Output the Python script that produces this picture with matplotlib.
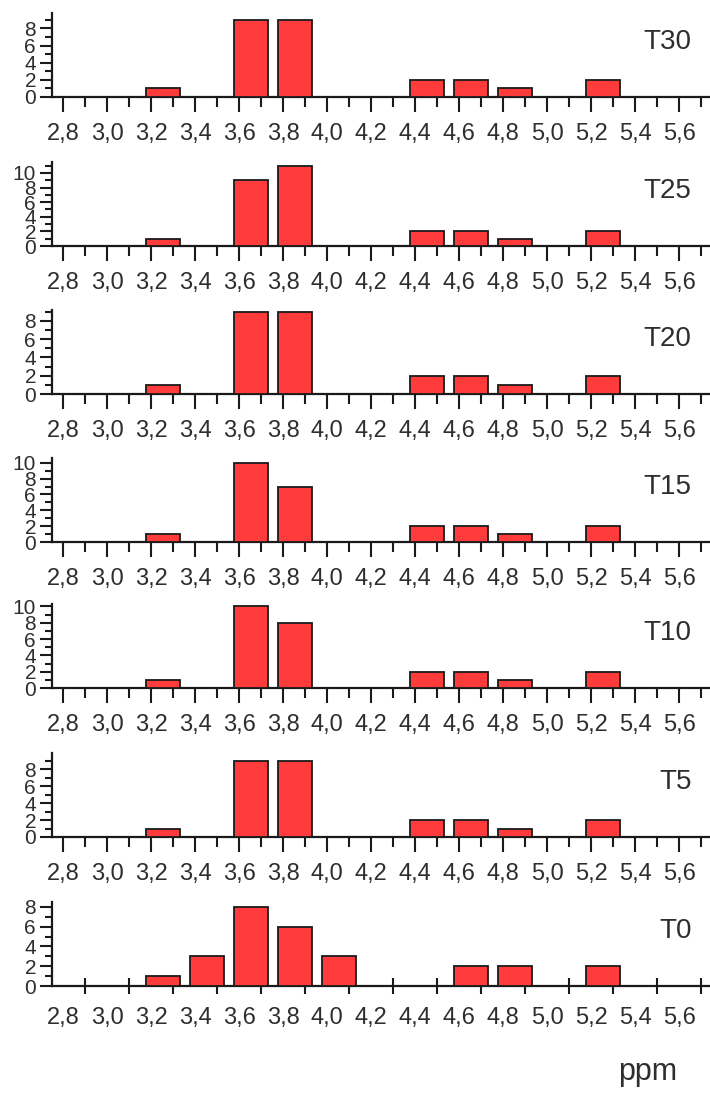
import matplotlib
matplotlib.use("Agg")
import matplotlib.pyplot as plt
import numpy as np

plt.rcParams['font.family'] = ['Liberation Sans', 'DejaVu Sans']

# chemical shift bins (ppm) and counts per time point
bins = [2.8, 3.0, 3.2, 3.4, 3.6, 3.8, 4.0, 4.2, 4.4, 4.6, 4.8, 5.0, 5.2, 5.4, 5.6]
tick_labels = ["2,8", "3,0", "3,2", "3,4", "3,6", "3,8", "4,0", "4,2",
               "4,4", "4,6", "4,8", "5,0", "5,2", "5,4", "5,6"]

t30 = [0, 0, 1, 0, 9, 9, 0, 0, 2, 2, 1, 0, 2, 0, 0]
t25 = [0, 0, 1, 0, 9, 11, 0, 0, 2, 2, 1, 0, 2, 0, 0]
t20 = [0, 0, 1, 0, 9, 9, 0, 0, 2, 2, 1, 0, 2, 0, 0]
t15 = [0, 0, 1, 0, 10, 7, 0, 0, 2, 2, 1, 0, 2, 0, 0]
t10 = [0, 0, 1, 0, 10, 8, 0, 0, 2, 2, 1, 0, 2, 0, 0]
t5 = [0, 0, 1, 0, 9, 9, 0, 0, 2, 2, 1, 0, 2, 0, 0]
t0 = [0, 0, 1, 3, 8, 6, 3, 0, 0, 2, 2, 0, 2, 0, 0]

names = ["T30", "T25", "T20", "T15", "T10", "T5", "T0"]
series = [t30, t25, t20, t15, t10, t5, t0]
ymax = [9.8, 11.5, 9.2, 10.6, 10.3, 9.9, 8.5]
yticks = [[0, 2, 4, 6, 8], [0, 2, 4, 6, 8, 10], [0, 2, 4, 6, 8],
          [0, 2, 4, 6, 8, 10], [0, 2, 4, 6, 8, 10], [0, 2, 4, 6, 8],
          [0, 2, 4, 6, 8]]
baselines_px = [97, 246, 394, 542, 688, 837, 986]

W, H = 710, 1100
txt = "#2e2e2e"
fig = plt.figure(figsize=(W / 100, H / 100), dpi=100)

x = np.array(bins)
minor_x = x + 0.1

for i, (name, vals) in enumerate(zip(names, series)):
    bottom = 1 - baselines_px[i] / H
    ax = fig.add_axes([52 / W, bottom, (W - 52) / W, 84 / H])
    ax.bar(x + 0.055, vals, width=0.155, color="#ff3b3b",
           edgecolor="#1a1a1a", linewidth=1.3, zorder=3)
    ax.set_xlim(2.75, 5.74)
    ax.set_ylim(0, ymax[i])
    for s in ["top", "right"]:
        ax.spines[s].set_visible(False)
    for s in ["left", "bottom"]:
        ax.spines[s].set_linewidth(1.6)
        ax.spines[s].set_color("#1a1a1a")

    ax.set_yticks(yticks[i])
    ax.set_yticks(np.arange(1, ymax[i], 2), minor=True)
    ax.tick_params(axis="y", which="major", direction="out", length=8.5,
                   width=1.5, pad=3, labelsize=15, labelcolor=txt,
                   color="#1a1a1a")
    ax.tick_params(axis="y", which="minor", direction="out", length=5,
                   width=1.5, color="#1a1a1a")

    ax.set_xticks(x)
    ax.set_xticklabels(tick_labels)
    ax.set_xticks(minor_x, minor=True)
    if name == "T0":
        ax.tick_params(axis="x", which="major", length=0, pad=15,
                       labelsize=17, labelcolor=txt)
        ax.tick_params(axis="x", which="minor", direction="inout",
                       length=11, width=1.5, color="#1a1a1a")
    else:
        ax.tick_params(axis="x", which="major", direction="out", length=11,
                       width=1.5, pad=8, labelsize=17, labelcolor=txt,
                       color="#1a1a1a")
        ax.tick_params(axis="x", which="minor", direction="out", length=7,
                       width=1.5, color="#1a1a1a")

    ax.text(0.972, 0.5, name, transform=ax.transAxes, ha="right",
            va="bottom", fontsize=20, color=txt)

fig.text(648 / W, 1 - 1072 / H, "ppm", ha="center", va="center",
         fontsize=22, color=txt)

fig.savefig("out.png", dpi=100)
